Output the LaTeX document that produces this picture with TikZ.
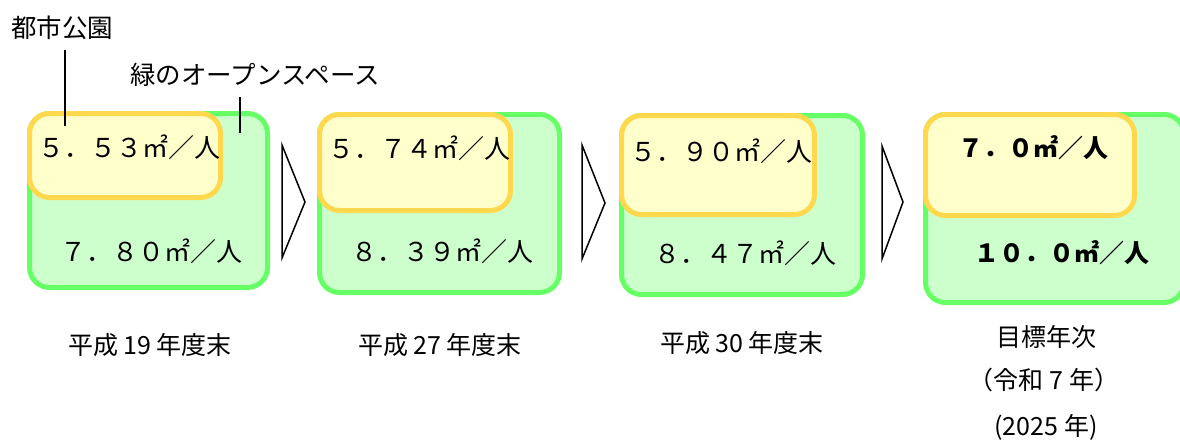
\documentclass[tikz,border=0pt]{standalone}
\usepackage{fontspec}
\setmainfont{Noto Sans CJK JP}
\begin{document}
\begin{tikzpicture}[x=1pt,y=-1pt,
  greenbox/.style={draw=grline,fill=grfill,line width=5pt,rounded corners=20pt},
  yellowbox/.style={draw=yeline,fill=yefill,line width=5pt,rounded corners=20pt},
  val/.style={inner sep=0pt,font=\fontsize{26}{30}\selectfont},
  bval/.style={val,font=\fontsize{25}{30}\selectfont\bfseries},
  lab/.style={inner sep=0pt,font=\fontsize{25}{30}\selectfont},
  toplab/.style={inner sep=0pt,font=\fontsize{25.5}{30}\selectfont},
  chev/.style={draw=black,line width=1.5pt,line join=miter},
  leader/.style={draw=black,line width=1.2pt}]
\definecolor{grline}{HTML}{66FF66}
\definecolor{grfill}{HTML}{CCFFCC}
\definecolor{yeline}{HTML}{FFD84D}
\definecolor{yefill}{HTML}{FFFFCC}
\useasboundingbox (0,0) rectangle (1180,439);
% boxes
\draw[greenbox] (29.5,113.5) rectangle (267.5,287.5);
\draw[yellowbox] (29.5,113.5) rectangle (220.5,197.5);
\draw[greenbox] (319.5,114.5) rectangle (559.5,292.5);
\draw[yellowbox] (319.5,114.5) rectangle (510.5,210.5);
\draw[greenbox] (621.5,115.5) rectangle (862.5,294.5);
\draw[yellowbox] (621.5,115.5) rectangle (814.5,214.5);
\draw[greenbox] (925.5,114.5) rectangle (1184,302.5);
\draw[yellowbox] (925.5,114.5) rectangle (1134.5,215.5);
% values
\node[val] (a1) at (129.5,147.5) {５．５３㎡／人};
\node[val] (b1) at (151.5,251) {７．８０㎡／人};
\node[val] (a2) at (419,148) {５．７４㎡／人};
\node[val] (b2) at (442.5,251) {８．３９㎡／人};
\node[val] (a3) at (721.5,151) {５．９０㎡／人};
\node[val] (b3) at (745,253) {８．４７㎡／人};
\node[bval] (a4) at (1033,148) {７．０㎡／人};
\node[bval] (b4) at (1061.5,252.5) {１０．０㎡／人};
% chevrons
\draw[chev] (282,145) -- (305,202) -- (282,258) -- cycle;
\draw[chev] (582,145) -- (605,203) -- (582,259) -- cycle;
\draw[chev] (882,146) -- (903,202) -- (882,259) -- cycle;
% top labels
\node[toplab] (toshi) at (62,28) {都市公園};
\node[toplab] (midori) at (255,75) {緑のオープンスペース};
\coordinate (t1) at (65,50);
\coordinate (e1) at (65,126);
\coordinate (t2) at (240,97);
\coordinate (e2) at (240,133);
\draw[leader] (t1) -- (e1);
\draw[leader] (t2) -- (e2);
% bottom labels
\node[lab] (y1) at (150,345) {平成 19 年度末};
\node[lab] (y2) at (440,345) {平成 27 年度末};
\node[lab] (y3) at (742,343) {平成 30 年度末};
\node[lab] (g1) at (1046,337) {目標年次};
\node[lab] (g2) at (1044,380) {（令和 7 年）};
\node[lab] (g3) at (1046,427) {(2025 年)};
\end{tikzpicture}
\end{document}
